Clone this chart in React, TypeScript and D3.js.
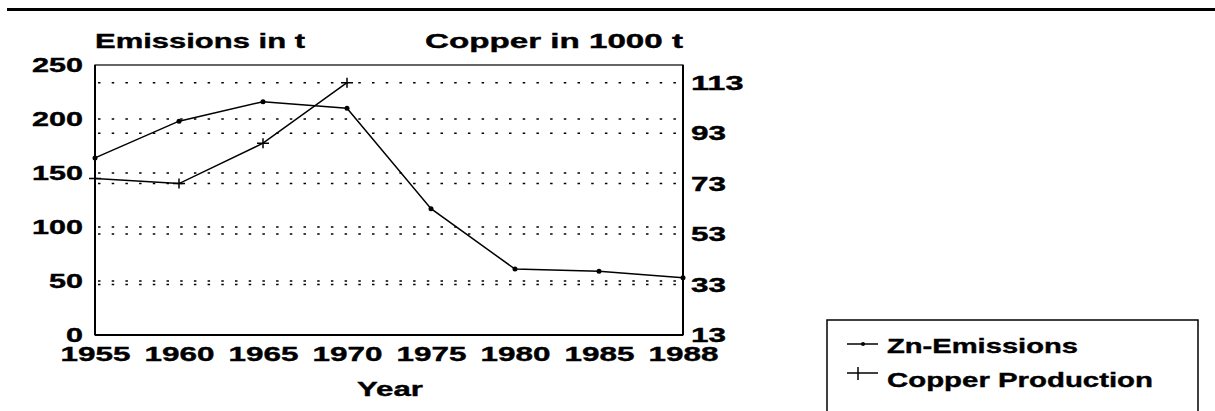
import React, { useRef, useEffect } from 'react';
import * as d3 from 'd3';

const years = ['1955', '1960', '1965', '1970', '1975', '1980', '1985', '1988'];
const znEmissions = [164, 198, 216, 210, 117, 61, 59, 53];
const copperYears = ['1955', '1960', '1965', '1970'];
const copperProduction = [75, 73, 89, 113];
const leftTicks = [0, 50, 100, 150, 200, 250];
const rightTicks = [13, 33, 53, 73, 93, 113];

const FONT = '"Liberation Sans", Arial, sans-serif';

const EmissionsChart = () => {
  const chartRef = useRef(null);

  useEffect(() => {
    document.body.style.margin = '0';
    const container = d3.select(chartRef.current);
    container.select('svg').remove();

    const width = 1215;
    const height = 411;
    const left = 95, right = 683, top = 65, bottom = 335;

    const svg = container
      .append('svg')
      .attr('width', width)
      .attr('height', height)
      .style('display', 'block')
      .style('background', '#fff');

    const x = d3.scalePoint().domain(years).range([left, right]);
    const yLeft = d3.scaleLinear().domain([0, 250]).range([bottom, top]);
    const yRight = d3.scaleLinear().domain([13, 120]).range([bottom, top]);

    // rule at the top of the page
    svg.append('line')
      .attr('x1', 7).attr('x2', width)
      .attr('y1', 9.5).attr('y2', 9.5)
      .attr('stroke', '#000').attr('stroke-width', 3);

    // dotted grid lines for both axes
    const grid = svg.append('g')
      .attr('stroke', '#000')
      .attr('stroke-width', 1.5)
      .attr('stroke-dasharray', '2.5,11.2');
    grid.selectAll('.gl')
      .data(leftTicks.filter((d) => d > 0 && d < 250))
      .enter().append('line')
      .attr('x1', left + 3).attr('x2', right)
      .attr('y1', (d) => yLeft(d)).attr('y2', (d) => yLeft(d));
    grid.selectAll('.gr')
      .data(rightTicks.filter((d) => d > 13))
      .enter().append('line')
      .attr('x1', left + 3).attr('x2', right)
      .attr('y1', (d) => yRight(d)).attr('y2', (d) => yRight(d));

    // frame
    svg.append('rect')
      .attr('x', left).attr('y', top)
      .attr('width', right - left).attr('height', bottom - top)
      .attr('fill', 'none').attr('stroke', '#000').attr('stroke-width', 1.2);
    svg.append('line')
      .attr('x1', left).attr('x2', left).attr('y1', top).attr('y2', bottom)
      .attr('stroke', '#000').attr('stroke-width', 2);
    svg.append('line')
      .attr('x1', right).attr('x2', right).attr('y1', top).attr('y2', bottom)
      .attr('stroke', '#000').attr('stroke-width', 2);
    svg.append('line')
      .attr('x1', left).attr('x2', right).attr('y1', bottom).attr('y2', bottom)
      .attr('stroke', '#000').attr('stroke-width', 2);

    const styleAxis = (g: any, perChar: number) => {
      g.select('.domain').remove();
      g.selectAll('text')
        .attr('font-family', FONT)
        .attr('font-weight', 'bold')
        .attr('font-size', 21)
        .attr('fill', '#000')
        .attr('stroke', '#000')
        .attr('stroke-width', 0.4)
        .attr('lengthAdjust', 'spacingAndGlyphs')
        .attr('textLength', function (this: any) {
          return (this.textContent || '').length * perChar;
        });
    };

    svg.append('g')
      .attr('transform', `translate(${left},0)`)
      .call(d3.axisLeft(yLeft).tickValues(leftTicks).tickSize(0).tickPadding(12))
      .call((g: any) => styleAxis(g, 17));

    svg.append('g')
      .attr('transform', `translate(${right},0)`)
      .call(d3.axisRight(yRight).tickValues(rightTicks).tickSize(0).tickPadding(8))
      .call((g: any) => styleAxis(g, 17.5));

    svg.append('g')
      .attr('transform', `translate(0,${bottom})`)
      .call(d3.axisBottom(x).tickSize(0).tickPadding(11))
      .call((g: any) => styleAxis(g, 17.5));

    // titles
    const label = (t: string, lx: number, ly: number, len: number) =>
      svg.append('text')
        .attr('x', lx).attr('y', ly)
        .attr('font-family', FONT)
        .attr('font-weight', 'bold')
        .attr('font-size', 21)
        .attr('stroke', '#000')
        .attr('stroke-width', 0.4)
        .attr('lengthAdjust', 'spacingAndGlyphs')
        .attr('textLength', len)
        .text(t);
    label('Emissions in t', 95, 48, 210);
    label('Copper in 1000 t', 425, 48, 258);
    label('Year', 357, 396, 66);

    // series
    const znLine = d3.line<number>()
      .x((_, i) => x(years[i]) as number)
      .y((d) => yLeft(d));
    svg.append('path')
      .datum(znEmissions)
      .attr('d', znLine)
      .attr('fill', 'none').attr('stroke', '#000').attr('stroke-width', 1.5);
    svg.selectAll('.zn-pt')
      .data(znEmissions)
      .enter().append('circle')
      .attr('cx', (_, i) => x(years[i]) as number)
      .attr('cy', (d) => yLeft(d))
      .attr('r', 2.5)
      .attr('fill', '#000');

    const cuLine = d3.line<number>()
      .x((_, i) => x(copperYears[i]) as number)
      .y((d) => yRight(d));
    svg.append('path')
      .datum(copperProduction)
      .attr('d', cuLine)
      .attr('fill', 'none').attr('stroke', '#000').attr('stroke-width', 1.5);
    svg.selectAll('.cu-pt')
      .data(copperProduction)
      .enter().append('path')
      .attr('transform', (d, i) => `translate(${x(copperYears[i])},${yRight(d)})`)
      .attr('d', 'M-6,0H6M0,-5V5')
      .attr('stroke', '#000').attr('stroke-width', 1.5);

    // legend
    svg.append('rect')
      .attr('x', 827).attr('y', 320)
      .attr('width', 371).attr('height', 130)
      .attr('fill', 'none').attr('stroke', '#000').attr('stroke-width', 1.5);
    svg.append('line')
      .attr('x1', 847).attr('x2', 878).attr('y1', 344).attr('y2', 344)
      .attr('stroke', '#000').attr('stroke-width', 1.5);
    svg.append('circle').attr('cx', 863).attr('cy', 344).attr('r', 2).attr('fill', '#000');
    svg.append('line')
      .attr('x1', 847).attr('x2', 878).attr('y1', 373).attr('y2', 373)
      .attr('stroke', '#000').attr('stroke-width', 1.5);
    svg.append('line')
      .attr('x1', 858).attr('x2', 858).attr('y1', 367).attr('y2', 380)
      .attr('stroke', '#000').attr('stroke-width', 1.5);
    label('Zn-Emissions', 887, 353, 191);
    label('Copper Production', 887, 387, 266);
  }, []);

  return <div ref={chartRef}></div>;
};

export default EmissionsChart;
